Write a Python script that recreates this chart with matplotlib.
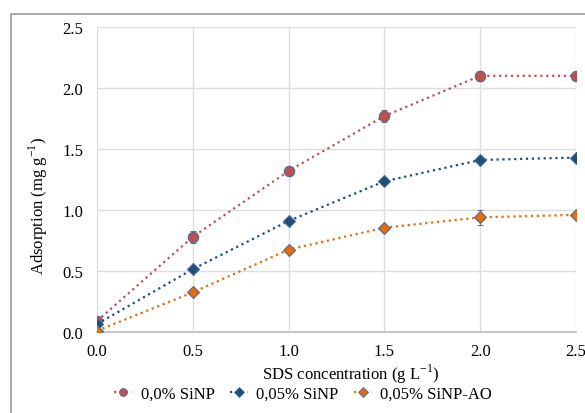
import matplotlib
matplotlib.use("Agg")
import matplotlib.pyplot as plt
from matplotlib.patches import Rectangle
from matplotlib.lines import Line2D

sds = [0.0, 0.5, 1.0, 1.5, 2.0, 2.5]
sinp_0 = [0.09, 0.78, 1.32, 1.77, 2.10, 2.10]
sinp_0_err = [0.02, 0.05, 0.02, 0.05, 0.04, 0.02]
sinp_005 = [0.065, 0.515, 0.91, 1.235, 1.41, 1.43]
sinp_005_err = [0.01, 0.02, 0.01, 0.01, 0.01, 0.01]
sinp_ao = [0.01, 0.325, 0.675, 0.855, 0.94, 0.96]
sinp_ao_err = [0.01, 0.01, 0.01, 0.01, 0.06, 0.01]
labels = ["0,0% SiNP", "0,05% SiNP", "0,05% SiNP-AO"]
xticks = [0.0, 0.5, 1.0, 1.5, 2.0, 2.5]
yticks = [0.0, 0.5, 1.0, 1.5, 2.0, 2.5]

plt.rcParams['font.family'] = ['Liberation Serif', 'DejaVu Serif']
plt.rcParams['mathtext.fontset'] = 'custom'
plt.rcParams['mathtext.rm'] = 'Liberation Serif'

W, H = 585, 414
fig = plt.figure(figsize=(W/100, H/100), dpi=100)
ax = fig.add_axes([97/W, 1-333/H, (576-97)/W, (333-28)/H])

# outer chart frame
fig.patches.append(Rectangle((11/W, -0.1), 1.2, 1-15/H+0.1, transform=fig.transFigure,
                             fill=False, edgecolor='#999999', linewidth=1.2))

series = [
    (sinp_0, sinp_0_err, '#C0504D', 'o', 7.5),
    (sinp_005, sinp_005_err, '#1F4E79', 'D', 6.5),
    (sinp_ao, sinp_ao_err, '#E46C0A', 'D', 6.5),
]
handles = []
for (y, e, c, m, ms), lab in zip(series, labels):
    ax.errorbar(sds, y, yerr=e, color=c, linestyle=':', linewidth=1.6, marker=m,
                markersize=ms, markerfacecolor=c, markeredgecolor='#4A6A9A',
                markeredgewidth=0.8, ecolor='#777777', elinewidth=0.8, capsize=2,
                zorder=3)
    handles.append(Line2D([], [], color=c, linestyle=':', linewidth=1.6, marker=m,
                          markersize=ms*0.75, markerfacecolor=c,
                          markeredgecolor='#4A6A9A', markeredgewidth=0.6, label=lab))

ax.set_xlim(0, 2.5)
ax.set_ylim(0, 2.5)
ax.set_xticks(xticks)
ax.set_yticks(yticks)
ax.set_xticklabels([f"{v:.1f}" for v in xticks])
ax.set_yticklabels([f"{v:.1f}" for v in yticks])
ax.tick_params(axis='y', length=0, labelsize=12, pad=10)
ax.tick_params(axis='x', length=0, labelsize=12, pad=8)
ax.grid(True, color='#DDDDDD', linewidth=1)
for s in ['top', 'right', 'left']:
    ax.spines[s].set_visible(False)
ax.spines['bottom'].set_color('#BBBBBB')
ax.spines['bottom'].set_linewidth(1.2)
ax.set_axisbelow(True)

fig.text(351/W, 1-374/H, "SDS concentration (g L$^{\\mathregular{-1}}$)", fontsize=12,
         ha='center', va='center')
fig.text(38/W, 1-206/H, "Adsorption (mg g$^{\\mathregular{-1}}$)", fontsize=12,
         ha='center', va='center', rotation=90)

fig.legend(handles=handles, loc='center', bbox_to_anchor=(303/W, 1-395/H), ncol=3,
           frameon=False, fontsize=12, handlelength=1.1, columnspacing=0.9,
           handletextpad=0.5)

fig.savefig("out.png", dpi=100)
